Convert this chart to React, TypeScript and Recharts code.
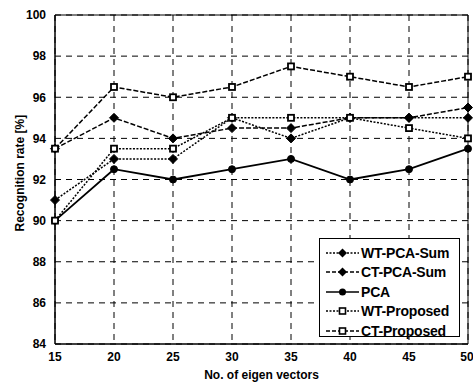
import React from "react";
import { LineChart, Line, XAxis, YAxis, CartesianGrid, ReferenceArea, Legend } from "recharts";

const eigenVectors = [15, 20, 25, 30, 35, 40, 45, 50];
const wtPcaSum = [91, 93, 93, 95, 94, 95, 95, 95];
const ctPcaSum = [93.5, 95, 94, 94.5, 94.5, 95, 95, 95.5];
const pca = [90, 92.5, 92, 92.5, 93, 92, 92.5, 93.5];
const wtProposed = [90, 93.5, 93.5, 95, 95, 95, 94.5, 94];
const ctProposed = [93.5, 96.5, 96, 96.5, 97.5, 97, 96.5, 97];
const xTicks = [15, 20, 25, 30, 35, 40, 45, 50];
const yTicks = [84, 86, 88, 90, 92, 94, 96, 98, 100];

const data = eigenVectors.map((n, i) => ({
  n,
  wtPcaSum: wtPcaSum[i],
  ctPcaSum: ctPcaSum[i],
  pca: pca[i],
  wtProposed: wtProposed[i],
  ctProposed: ctProposed[i],
}));

const FONT = "'Liberation Sans', Arial, sans-serif";

const Diamond = (props: any) => {
  const { cx, cy } = props;
  if (cx == null || cy == null) return null;
  const r = 4.5;
  return <path d={`M${cx},${cy - r}L${cx + r},${cy}L${cx},${cy + r}L${cx - r},${cy}Z`} fill="#000" stroke="#000" />;
};
const Circle = (props: any) => {
  const { cx, cy } = props;
  if (cx == null || cy == null) return null;
  return <circle cx={cx} cy={cy} r={3.5} fill="#000" stroke="#000" />;
};
const Square = (props: any) => {
  const { cx, cy } = props;
  if (cx == null || cy == null) return null;
  return <rect x={cx - 3} y={cy - 3} width={6} height={6} fill="#fff" stroke="#000" strokeWidth={1.8} />;
};

const legendItems = [
  { name: "WT-PCA-Sum", dash: "2 1.5", marker: "diamond" },
  { name: "CT-PCA-Sum", dash: "4 2", marker: "diamond" },
  { name: "PCA", dash: "", marker: "circle" },
  { name: "WT-Proposed", dash: "2 1.5", marker: "square" },
  { name: "CT-Proposed", dash: "4 2", marker: "square" },
];

const LegendBox = () => (
  <div
    style={{
      position: "absolute",
      left: 319,
      top: 238,
      width: 141,
      height: 99,
      border: "1px solid #000",
      background: "#fff",
      boxSizing: "border-box",
      fontFamily: FONT,
      fontWeight: "bold",
      fontSize: 14,
      paddingTop: 4,
    }}
  >
    {legendItems.map((it) => (
      <div key={it.name} style={{ display: "flex", alignItems: "center", height: 19.5 }}>
        <svg width={33} height={12} style={{ marginLeft: 6, marginRight: 2 }}>
          <line x1={0} y1={6} x2={33} y2={6} stroke="#000" strokeWidth={1.5} strokeDasharray={it.dash} />
          {it.marker === "diamond" && <path d="M16.5,1.5L21,6L16.5,10.5L12,6Z" fill="#000" />}
          {it.marker === "circle" && <circle cx={16.5} cy={6} r={3.5} fill="#000" />}
          {it.marker === "square" && <rect x={13.5} y={3} width={6} height={6} fill="#fff" stroke="#000" strokeWidth={1.6} />}
        </svg>
        <span style={{ letterSpacing: -0.2 }}>{it.name}</span>
      </div>
    ))}
  </div>
);

export default function App() {
  return (
    <div style={{ position: "absolute", left: 0, top: 0, width: 473, height: 383, background: "#fff" }}>
      <LineChart width={473} height={383} data={data} margin={{ top: 15, right: 5, bottom: 0, left: 0 }}>
        <CartesianGrid stroke="#000" strokeDasharray="6 5" strokeWidth={1} />
        <XAxis
          dataKey="n"
          type="number"
          domain={[15, 50]}
          ticks={xTicks}
          height={39}
          tickLine={false}
          axisLine={{ stroke: "#000" }}
          tick={{ fill: "#000", fontFamily: FONT, fontWeight: "bold", fontSize: 12 }}
          tickMargin={2}
          label={{ value: "No. of eigen vectors", position: "insideBottom", offset: 4, fill: "#000", fontFamily: FONT, fontWeight: "bold", fontSize: 12 }}
        />
        <YAxis
          type="number"
          domain={[84, 100]}
          ticks={yTicks}
          width={55}
          tickLine={false}
          axisLine={{ stroke: "#000" }}
          tick={{ fill: "#000", fontFamily: FONT, fontWeight: "bold", fontSize: 12 }}
          tickMargin={3}
          label={{ value: "Recognition rate [%]", angle: -90, position: "insideLeft", offset: 20, dy: 52, fill: "#000", fontFamily: FONT, fontWeight: "bold", fontSize: 12 }}
        />
        <ReferenceArea x1={15} x2={50} y1={84} y2={100} fill="none" stroke="#000" strokeWidth={1} ifOverflow="visible" />
        <Line dataKey="pca" stroke="#000" strokeWidth={1.8} dot={<Circle />} isAnimationActive={false} />
        <Line dataKey="wtPcaSum" stroke="#000" strokeWidth={1.5} strokeDasharray="2 1.5" dot={<Diamond />} isAnimationActive={false} />
        <Line dataKey="ctPcaSum" stroke="#000" strokeWidth={1.5} strokeDasharray="5 2" dot={<Diamond />} isAnimationActive={false} />
        <Line dataKey="wtProposed" stroke="#000" strokeWidth={1.5} strokeDasharray="2 1.5" dot={<Square />} isAnimationActive={false} />
        <Line dataKey="ctProposed" stroke="#000" strokeWidth={1.5} strokeDasharray="5 2" dot={<Square />} isAnimationActive={false} />
        <Legend content={() => <LegendBox />} wrapperStyle={{ position: "absolute", left: 0, top: 0, width: 0, height: 0 }} />
      </LineChart>
    </div>
  );
}
